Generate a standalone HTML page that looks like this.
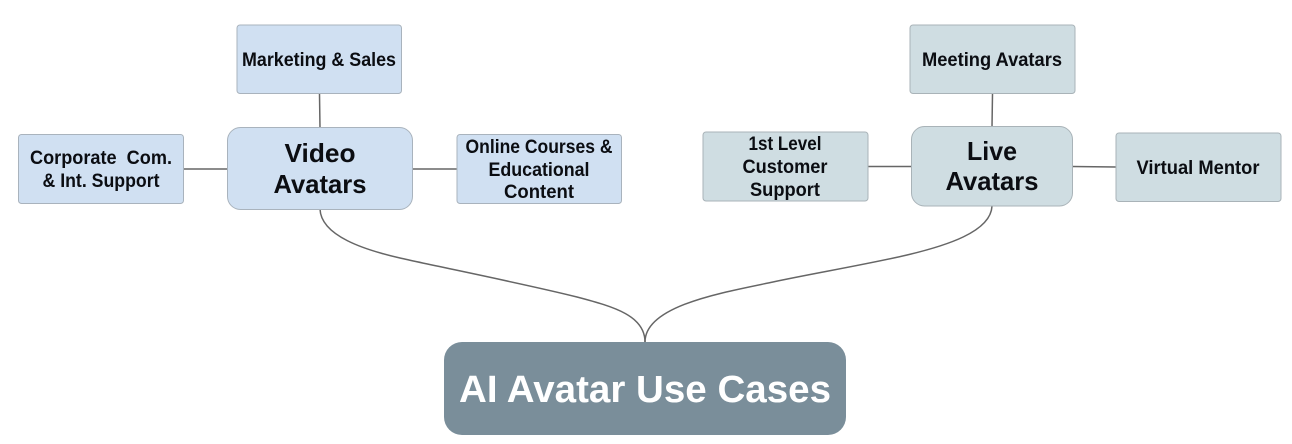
<!DOCTYPE html>
<html><head><meta charset="utf-8"><style>
html,body{margin:0;padding:0;background:#fff;width:1292px;height:444px;overflow:hidden}
svg{display:block}
text{font-family:"Liberation Sans",sans-serif;font-weight:bold;fill:#0b0d12;text-anchor:middle}
.s{font-size:19px}.m{font-size:26px}
.b{fill:#d0e0f2;stroke:#a9b3bd;stroke-width:1}
.g{fill:#cfdde2;stroke:#a9b3b8;stroke-width:1}
.l{stroke:#666;stroke-width:1.5;fill:none}
</style></head><body>
<svg width="1292" height="444" viewBox="0 0 1292 444" xmlns="http://www.w3.org/2000/svg">
<path class="l" d="M319.500 94L320 128M184 169H227M412 169H457M992.500 94L992 127M868 166.500H912M1072 166.500L1116 167"/>
<path class="l" d="M320 209C321 236 365 250 400 258C435 266 530 285 577 297C615 307 645 316 645 342"/>
<path class="l" d="M992 206C991 232 945 246 907 255C869 264 810 274 773 282C720 293 645 306 645 342"/>
<rect class="b" x="237" y="25" width="164.500" height="68.500" rx="3"/>
<rect class="b" x="18.500" y="134.500" width="165" height="69" rx="3"/>
<rect class="b" x="457" y="134.500" width="164.500" height="69" rx="3"/>
<rect class="b" x="227.500" y="127.500" width="185" height="82" rx="13"/>
<rect class="g" x="910" y="25" width="165" height="68.500" rx="3"/>
<rect class="g" x="703" y="132" width="165" height="69" rx="3"/>
<rect class="g" x="1116" y="133" width="165" height="68.500" rx="3"/>
<rect class="g" x="911.500" y="126.500" width="161" height="79.500" rx="13"/>
<rect x="444" y="342" width="402" height="93" rx="18" fill="#7a8e9a"/>
<text class="s" x="319" y="66" textLength="154" lengthAdjust="spacingAndGlyphs">Marketing &amp; Sales</text>
<text class="s" x="101" y="164" textLength="142" lengthAdjust="spacingAndGlyphs">Corporate&#160; Com.</text>
<text class="s" x="101" y="187" textLength="117" lengthAdjust="spacingAndGlyphs">&amp; Int. Support</text>
<text class="s" x="539" y="153" textLength="147" lengthAdjust="spacingAndGlyphs">Online Courses &amp;</text>
<text class="s" x="539" y="176" textLength="101" lengthAdjust="spacingAndGlyphs">Educational</text>
<text class="s" x="539" y="198" textLength="70" lengthAdjust="spacingAndGlyphs">Content</text>
<text class="m" x="320" y="162" textLength="71" lengthAdjust="spacingAndGlyphs">Video</text>
<text class="m" x="320" y="193" textLength="93" lengthAdjust="spacingAndGlyphs">Avatars</text>
<text class="s" x="992" y="66" textLength="140" lengthAdjust="spacingAndGlyphs">Meeting Avatars</text>
<text class="s" x="785" y="150" textLength="73" lengthAdjust="spacingAndGlyphs">1st Level</text>
<text class="s" x="785" y="173" textLength="85" lengthAdjust="spacingAndGlyphs">Customer</text>
<text class="s" x="785" y="196" textLength="70" lengthAdjust="spacingAndGlyphs">Support</text>
<text class="s" x="1198" y="174" textLength="123" lengthAdjust="spacingAndGlyphs">Virtual Mentor</text>
<text class="m" x="992" y="160" textLength="50" lengthAdjust="spacingAndGlyphs">Live</text>
<text class="m" x="992" y="190" textLength="93" lengthAdjust="spacingAndGlyphs">Avatars</text>
<text x="645" y="402" font-size="38" style="fill:#fff" textLength="372" lengthAdjust="spacingAndGlyphs">AI Avatar Use Cases</text>
</svg>
</body></html>
